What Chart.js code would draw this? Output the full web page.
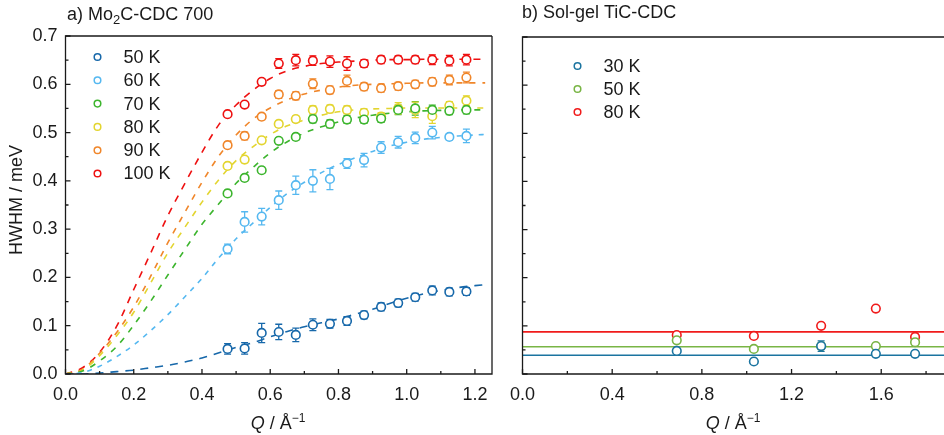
<!DOCTYPE html>
<html lang="en">
<head>
<meta charset="UTF-8">
<title>HWHM vs Q</title>
<script src="https://cdn.jsdelivr.net/npm/chart.js"></script>
<style>
  body { margin: 0; background: #fff; }
  .wrap { position: absolute; top: 0; height: 435px; }
  #wrapA { left: 0; width: 500px; }
  #wrapB { left: 500px; width: 444px; }
</style>
</head>
<body>
<div class="wrap" id="wrapA"><canvas id="chartA"></canvas></div>
<div class="wrap" id="wrapB"><canvas id="chartB"></canvas></div>
<script>
// a) Mo2C-CDC 700 : measured points
const qMo = [0.475, 0.525, 0.575, 0.625, 0.675, 0.725, 0.775, 0.825, 0.875, 0.925, 0.975, 1.025, 1.075, 1.125, 1.175];
const h50  = [0.052, 0.053, 0.085, 0.087, 0.081, 0.102, 0.104, 0.110, 0.122, 0.139, 0.147, 0.159, 0.173, 0.170, 0.171];
const e50  = [0.011, 0.012, 0.020, 0.016, 0.014, 0.012, 0.009, 0.009, 0.008, 0.008, 0.008, 0.008, 0.009, 0.008, 0.008];
const h60  = [0.259, 0.315, 0.326, 0.360, 0.391, 0.400, 0.404, 0.436, 0.443, 0.469, 0.480, 0.489, 0.500, 0.491, 0.493];
const e60  = [0.010, 0.021, 0.017, 0.019, 0.019, 0.023, 0.022, 0.010, 0.014, 0.012, 0.012, 0.012, 0.013, 0.006, 0.014];
const h70  = [0.374, 0.406, 0.422, 0.483, 0.491, 0.528, 0.518, 0.527, 0.527, 0.529, 0.547, 0.550, 0.547, 0.545, 0.547];
const e70  = [0.006, 0.006, 0.006, 0.006, 0.006, 0.008, 0.008, 0.008, 0.008, 0.008, 0.010, 0.014, 0.010, 0.008, 0.008];
const h80  = [0.431, 0.444, 0.484, 0.518, 0.528, 0.547, 0.549, 0.547, 0.541, 0.533, 0.550, 0.547, 0.534, 0.556, 0.566];
const e80  = [0.006, 0.006, 0.006, 0.006, 0.006, 0.008, 0.008, 0.008, 0.008, 0.008, 0.012, 0.016, 0.015, 0.008, 0.010];
const h90  = [0.474, 0.493, 0.533, 0.579, 0.576, 0.601, 0.588, 0.607, 0.595, 0.592, 0.596, 0.600, 0.605, 0.609, 0.614];
const e90  = [0.006, 0.008, 0.006, 0.008, 0.008, 0.010, 0.008, 0.012, 0.008, 0.008, 0.008, 0.008, 0.008, 0.010, 0.011];
const h100 = [0.538, 0.558, 0.605, 0.643, 0.650, 0.649, 0.647, 0.643, 0.643, 0.651, 0.651, 0.651, 0.651, 0.649, 0.651];
const e100 = [0.005, 0.006, 0.006, 0.010, 0.012, 0.010, 0.012, 0.014, 0.008, 0.008, 0.008, 0.008, 0.010, 0.011, 0.011];

// a) fitted curves (dashed)
const qFit = [0, 0.05, 0.1, 0.15, 0.2, 0.25, 0.3, 0.35, 0.4, 0.45, 0.5, 0.55, 0.6, 0.65, 0.7, 0.75, 0.8, 0.85, 0.9, 0.95, 1.0, 1.05, 1.1, 1.15, 1.2, 1.23];
const f50  = [0, 0.000, 0.002, 0.005, 0.008, 0.013, 0.018, 0.025, 0.033, 0.044, 0.055, 0.065, 0.077, 0.088, 0.098, 0.106, 0.114, 0.124, 0.134, 0.146, 0.157, 0.166, 0.173, 0.179, 0.183, 0.185];
const f60  = [0, 0.003, 0.016, 0.036, 0.060, 0.090, 0.123, 0.160, 0.198, 0.241, 0.280, 0.313, 0.345, 0.374, 0.397, 0.417, 0.434, 0.448, 0.461, 0.472, 0.480, 0.486, 0.490, 0.493, 0.495, 0.496];
const f70  = [0, 0.006, 0.027, 0.057, 0.101, 0.151, 0.205, 0.258, 0.310, 0.353, 0.395, 0.428, 0.458, 0.481, 0.499, 0.512, 0.522, 0.530, 0.536, 0.540, 0.543, 0.545, 0.546, 0.547, 0.547, 0.547];
const f80  = [0, 0.008, 0.038, 0.079, 0.128, 0.189, 0.251, 0.304, 0.356, 0.403, 0.442, 0.471, 0.496, 0.514, 0.526, 0.536, 0.543, 0.547, 0.549, 0.550, 0.551, 0.551, 0.551, 0.551, 0.551, 0.551];
const f90  = [0, 0.010, 0.043, 0.086, 0.139, 0.203, 0.272, 0.335, 0.397, 0.452, 0.495, 0.528, 0.551, 0.568, 0.580, 0.588, 0.594, 0.598, 0.600, 0.601, 0.602, 0.603, 0.603, 0.603, 0.603, 0.603];
const f100 = [0, 0.013, 0.045, 0.099, 0.175, 0.251, 0.328, 0.395, 0.459, 0.517, 0.557, 0.588, 0.612, 0.628, 0.637, 0.643, 0.646, 0.648, 0.650, 0.651, 0.651, 0.652, 0.652, 0.652, 0.652, 0.652];

// b) Sol-gel TiC-CDC
const qTi  = [0.688, 1.032, 1.332, 1.576, 1.751];
const t30  = [0.048, 0.026, 0.058, 0.042, 0.042];
const et30 = [0.003, 0.003, 0.011, 0.003, 0.003];
const t50  = [0.070, 0.052, 0.058, 0.058, 0.066];
const t80  = [0.081, 0.079, 0.100, 0.136, 0.077];
const level30 = 0.039, level50 = 0.0565, level80 = 0.0876;

const FONT = '"Liberation Sans", Arial, sans-serif';
const INK = '#1a1a1a';
const pts = (xs, ys) => xs.map((v, i) => ({ x: v, y: ys[i] }));

function markers(label, q, h, err, color) {
  return {
    label, data: pts(q, h), errors: err, showLine: false, order: 1,
    borderColor: color, backgroundColor: '#fff',
    pointRadius: 4.3, pointHoverRadius: 4.3, pointBorderWidth: 1.6
  };
}
function fit(h, color, dash) {
  return {
    label: '', data: pts(qFit, h), showLine: true, order: 2, fit: true,
    borderColor: color, borderWidth: 1.6, borderDash: dash, pointRadius: 0,
    cubicInterpolationMode: 'monotone'
  };
}
function level(v, max, color) {
  return {
    label: '', data: [{ x: 0, y: v }, { x: max, y: v }], showLine: true, order: 2, fit: true,
    borderColor: color, borderWidth: 1.6, pointRadius: 0
  };
}

const errorBars = {
  id: 'errorBars',
  beforeDatasetsDraw(chart) {
    const { ctx, scales: { x, y } } = chart;
    ctx.save();
    chart.data.datasets.forEach(ds => {
      if (!ds.errors) return;
      ctx.strokeStyle = ds.borderColor;
      ctx.lineWidth = 1.3;
      ds.data.forEach((p, i) => {
        const e = ds.errors[i];
        const px = x.getPixelForValue(p.x);
        const top = y.getPixelForValue(p.y + e), bot = y.getPixelForValue(p.y - e);
        ctx.beginPath();
        ctx.moveTo(px, top); ctx.lineTo(px, bot);
        ctx.moveTo(px - 3.5, top); ctx.lineTo(px + 3.5, top);
        ctx.moveTo(px - 3.5, bot); ctx.lineTo(px + 3.5, bot);
        ctx.stroke();
      });
    });
    ctx.restore();
  }
};

// frame, inward ticks, legend and texts
const decor = {
  id: 'decor',
  afterDraw(chart, args, o) {
    const { ctx, chartArea: a, scales: { x, y } } = chart;
    ctx.save();
    ctx.strokeStyle = INK;
    ctx.lineWidth = 1.3;
    ctx.beginPath();
    ctx.moveTo(a.right + (o.rightBorder ? 0 : 2), a.top);
    ctx.lineTo(a.left, a.top);
    ctx.lineTo(a.left, a.bottom);
    ctx.lineTo(a.right, a.bottom);
    if (o.rightBorder) ctx.lineTo(a.right, a.top);
    ctx.stroke();

    ctx.beginPath();
    for (let i = 0; i * o.xMinor <= x.max + 1e-9; i++) {
      const px = x.getPixelForValue(i * o.xMinor);
      const len = i % o.xEvery === 0 ? 5 : 3;
      ctx.moveTo(px, a.bottom); ctx.lineTo(px, a.bottom - len);
    }
    for (let i = 0; i * o.yMinor <= y.max + 1e-9; i++) {
      const py = y.getPixelForValue(i * o.yMinor);
      const len = i % 2 === 0 ? 5 : 3;
      ctx.moveTo(a.left, py); ctx.lineTo(a.left + len, py);
    }
    ctx.stroke();

    // legend
    ctx.font = '18px ' + FONT;
    ctx.textBaseline = 'middle';
    ctx.fillStyle = INK;
    const items = chart.data.datasets.filter(d => !d.fit);
    items.forEach((d, i) => {
      const cy = a.top + o.legY + i * o.legStep;
      ctx.beginPath();
      ctx.strokeStyle = d.borderColor;
      ctx.lineWidth = 1.5;
      ctx.arc(a.left + o.legX, cy, 3.3, 0, Math.PI * 2);
      ctx.stroke();
      ctx.fillText(d.label, a.left + o.legX + 26, cy + 1);
    });

    // panel title
    ctx.textBaseline = 'alphabetic';
    ctx.textAlign = 'left';
    let tx = o.titleX;
    o.title.forEach(part => {
      ctx.font = (part.sub ? '13px ' : '18px ') + FONT;
      ctx.fillText(part.t, tx, o.titleY + (part.sub ? 4 : 0));
      tx += ctx.measureText(part.t).width;
    });

    // x axis title: Q / Å^-1
    const parts = [
      { t: 'Q', f: 'italic 18px ' + FONT, dy: 0 },
      { t: ' / Å', f: '18px ' + FONT, dy: 0 },
      { t: '\u22121', f: '12px ' + FONT, dy: -7 }
    ];
    let w = 0;
    parts.forEach(p => { ctx.font = p.f; w += ctx.measureText(p.t).width; });
    let sx = o.xTitleX - w / 2;
    parts.forEach(p => {
      ctx.font = p.f;
      ctx.fillText(p.t, sx, 429 + p.dy);
      sx += ctx.measureText(p.t).width;
    });

    if (o.yTitle) {
      ctx.translate(17, 200);
      ctx.rotate(-Math.PI / 2);
      ctx.font = '18px ' + FONT;
      ctx.textAlign = 'center';
      ctx.textBaseline = 'middle';
      ctx.fillText(o.yTitle, 0, 0);
    }
    ctx.restore();
  }
};

const tickFont = { family: FONT, size: 18 };

new Chart(document.getElementById('chartA'), {
  type: 'scatter',
  data: {
    datasets: [
      markers('50 K', qMo, h50, e50, '#1768aa'),
      markers('60 K', qMo, h60, e60, '#55b8f0'),
      markers('70 K', qMo, h70, e70, '#3db52e'),
      markers('80 K', qMo, h80, e80, '#e3d530'),
      markers('90 K', qMo, h90, e90, '#f0862a'),
      markers('100 K', qMo, h100, e100, '#ee1111'),
      fit(f50, '#1768aa', [8, 7]),
      fit(f60, '#55b8f0', [5, 6]),
      fit(f70, '#3db52e', [6, 7]),
      fit(f80, '#e3d530', [6, 7]),
      fit(f90, '#f0862a', [6, 7]),
      fit(f100, '#ee1111', [7, 7])
    ]
  },
  options: {
    responsive: true,
    maintainAspectRatio: false,
    animation: false,
    layout: { autoPadding: false, padding: { left: 0, right: 8, top: 36, bottom: 0 } },
    plugins: {
      legend: { display: false },
      tooltip: { enabled: false },
      decor: {
        rightBorder: true, xMinor: 0.1, xEvery: 2, yMinor: 0.05,
        legX: 32, legY: 21, legStep: 23.3,
        titleX: 67, titleY: 20,
        title: [{ t: 'a) Mo' }, { t: '2', sub: true }, { t: 'C-CDC 700' }],
        xTitleX: 278, yTitle: 'HWHM / meV'
      }
    },
    scales: {
      x: {
        type: 'linear', min: 0, max: 1.25,
        grid: { display: false, drawTicks: false }, border: { display: false },
        ticks: { stepSize: 0.2, includeBounds: false, autoSkip: false, maxRotation: 0, padding: 10,
                 color: INK, font: tickFont, callback: v => v.toFixed(1) },
        afterFit(s) { s.height = 61; }
      },
      y: {
        min: 0, max: 0.7,
        grid: { display: false, drawTicks: false }, border: { display: false },
        ticks: { stepSize: 0.1, padding: 8, color: INK, font: tickFont, callback: v => v.toFixed(1) },
        afterFit(s) { s.width = 65.5; }
      }
    }
  },
  plugins: [errorBars, decor]
});

const xMaxB = 1.88;
new Chart(document.getElementById('chartB'), {
  type: 'scatter',
  data: {
    datasets: [
      markers('30 K', qTi, t30, et30, '#1b74a0'),
      markers('50 K', qTi, t50, null, '#79b545'),
      markers('80 K', qTi, t80, null, '#f01b1b'),
      level(level30, xMaxB, '#1b74a0'),
      level(level50, xMaxB, '#79b545'),
      level(level80, xMaxB, '#f01b1b')
    ]
  },
  options: {
    responsive: true,
    maintainAspectRatio: false,
    animation: false,
    layout: { autoPadding: false, padding: { left: 0, right: 0, top: 37, bottom: 0 } },
    plugins: {
      legend: { display: false },
      tooltip: { enabled: false },
      decor: {
        rightBorder: false, xMinor: 0.2, xEvery: 2, yMinor: 0.05,
        legX: 55, legY: 29, legStep: 23,
        titleX: 22, titleY: 18,
        title: [{ t: 'b) Sol-gel TiC-CDC' }],
        xTitleX: 233
      }
    },
    scales: {
      x: {
        type: 'linear', min: 0, max: xMaxB,
        grid: { display: false, drawTicks: false }, border: { display: false },
        ticks: { stepSize: 0.4, includeBounds: false, autoSkip: false, maxRotation: 0, padding: 10,
                 color: INK, font: tickFont, callback: v => v.toFixed(1) },
        afterFit(s) { s.height = 61; }
      },
      y: {
        min: 0, max: 0.7,
        grid: { display: false, drawTicks: false }, border: { display: false },
        ticks: { display: false, stepSize: 0.1 },
        afterFit(s) { s.width = 21; }
      }
    }
  },
  plugins: [errorBars, decor]
});
</script>
</body>
</html>
